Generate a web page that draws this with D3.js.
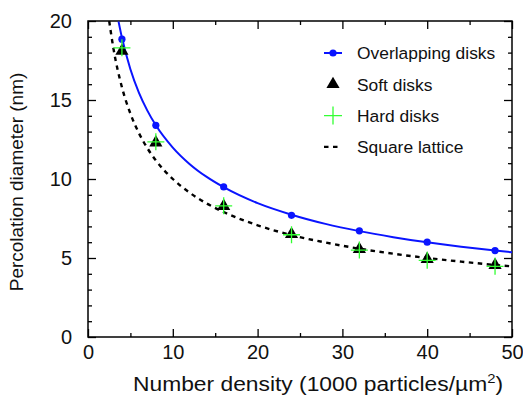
<!DOCTYPE html>
<html>
<head>
<meta charset="utf-8">
<script src="https://cdn.jsdelivr.net/npm/d3@7"></script>
<style>
  body { margin: 0; background: #fff; }
  svg { display: block; font-family: "Liberation Sans", Arial, Helvetica, sans-serif; }
</style>
</head>
<body>
<svg id="chart" width="523" height="398"></svg>
<script>
// Simulated densities (1000 particles/µm²)
const densities = [4, 8, 16, 24, 32, 40, 48];
// Percolation diameters (nm) for each particle model
const overlapping = [18.85, 13.4, 9.5, 7.7, 6.72, 6.0, 5.47];
const soft = [18.1, 12.3, 8.28, 6.5, 5.55, 4.93, 4.55];
const hard = [18.3, 12.35, 8.3, 6.47, 5.5, 4.85, 4.47];

// Smooth continuum curve for overlapping disks
const overlapCurveX = [3.6, 4, 5, 6, 7, 8, 10, 12, 14, 16, 20, 24, 28, 32, 36, 40, 44, 48, 50];
const overlapCurveY = [19.97, 18.95, 16.95, 15.47, 14.33, 13.4, 11.99, 10.94, 10.13, 9.48, 8.47, 7.74, 7.16, 6.7, 6.32, 5.99, 5.71, 5.47, 5.36];
// Square lattice spacing curve
const latticeX = [2.5, 3, 4, 5, 6, 7, 8, 10, 12, 14, 16, 20, 24, 28, 32, 36, 40, 44, 48, 50];
const latticeY = [20.0, 18.26, 15.81, 14.14, 12.91, 11.95, 11.18, 10.0, 9.13, 8.45, 7.91, 7.07, 6.45, 5.98, 5.59, 5.27, 5.0, 4.77, 4.56, 4.47];

const xTicks = [0, 10, 20, 30, 40, 50];
const yTicks = [0, 5, 10, 15, 20];
const legendLabels = ["Overlapping disks", "Soft disks", "Hard disks", "Square lattice"];

const svg = d3.select("#chart");
const m = { left: 88, right: 11, top: 21, bottom: 61 };
const W = 523, H = 398;
const x = d3.scaleLinear().domain([0, 50]).range([m.left, W - m.right]);
const y = d3.scaleLinear().domain([0, 20]).range([H - m.bottom, m.top]);

const blue = "#0a14ff", green = "#33ff33";

// Clip the curves to the plotting frame
svg.append("clipPath").attr("id", "plotClip")
  .append("rect").attr("x", x(0)).attr("y", y(20)).attr("width", x(50) - x(0)).attr("height", y(0) - y(20));

// Inward ticks on all four sides
function ticksGroup(axisFn, scale, transform, values, size) {
  svg.append("g").attr("transform", transform)
    .call(axisFn(scale).tickValues(values).tickSize(size).tickFormat(""))
    .call(g => g.select(".domain").remove())
    .call(g => g.selectAll("line").attr("stroke", "#000").attr("stroke-width", 1.3));
}
const xMinor = d3.range(5, 50, 10);
const yMinor = d3.range(0, 21).filter(v => v % 5 !== 0);
ticksGroup(d3.axisTop, x, `translate(0,${y(0)})`, xTicks, 8);
ticksGroup(d3.axisTop, x, `translate(0,${y(0)})`, xMinor, 4);
ticksGroup(d3.axisBottom, x, `translate(0,${y(20)})`, xTicks, 8);
ticksGroup(d3.axisBottom, x, `translate(0,${y(20)})`, xMinor, 4);
ticksGroup(d3.axisRight, y, `translate(${x(0)},0)`, yTicks, 8);
ticksGroup(d3.axisRight, y, `translate(${x(0)},0)`, yMinor, 4);
ticksGroup(d3.axisLeft, y, `translate(${x(50)},0)`, yTicks, 8);
ticksGroup(d3.axisLeft, y, `translate(${x(50)},0)`, yMinor, 4);

// Tick labels
svg.append("g").attr("transform", `translate(0,${y(0)})`)
  .call(d3.axisBottom(x).tickValues(xTicks).tickSize(0).tickPadding(8))
  .call(g => g.select(".domain").remove())
  .call(g => g.selectAll("text").attr("font-size", 20).attr("fill", "#111").attr("font-family", null));
svg.append("g").attr("transform", `translate(${x(0)},0)`)
  .call(d3.axisLeft(y).tickValues(yTicks).tickSize(0).tickPadding(16))
  .call(g => g.select(".domain").remove())
  .call(g => g.selectAll("text").attr("font-size", 20).attr("fill", "#111").attr("font-family", null));

// Frame
svg.append("rect").attr("x", x(0)).attr("y", y(20))
  .attr("width", x(50) - x(0)).attr("height", y(0) - y(20))
  .attr("fill", "none").attr("stroke", "#000").attr("stroke-width", 1.5);

const line = d3.line().x(d => x(d[0])).y(d => y(d[1])).curve(d3.curveMonotoneX);
const plot = svg.append("g").attr("clip-path", "url(#plotClip)");

plot.append("path").datum(latticeX.map((v, i) => [v, latticeY[i]]))
  .attr("d", line).attr("fill", "none").attr("stroke", "#000")
  .attr("stroke-width", 2.4).attr("stroke-dasharray", "4.5,4.5");
plot.append("path").datum(overlapCurveX.map((v, i) => [v, overlapCurveY[i]]))
  .attr("d", line).attr("fill", "none").attr("stroke", blue).attr("stroke-width", 2);

const tri = d3.symbol().type(d3.symbolTriangle).size(75);

// Overlapping disk markers
svg.append("g").selectAll("circle").data(densities).join("circle")
  .attr("cx", d => x(d)).attr("cy", (d, i) => y(overlapping[i])).attr("r", 3.6).attr("fill", blue);
// Soft disk triangles
svg.append("g").selectAll("path").data(densities).join("path")
  .attr("d", tri).attr("transform", (d, i) => `translate(${x(d)},${y(soft[i])})`).attr("fill", "#000");
// Hard disk crosses
const plusPath = (cx, cy, s) => `M${cx - s},${cy}H${cx + s}M${cx},${cy - s}V${cy + s}`;
svg.append("g").selectAll("path").data(densities).join("path")
  .attr("d", (d, i) => plusPath(x(d), y(hard[i]), 8.5))
  .attr("stroke", green).attr("stroke-width", 1.3).attr("fill", "none");

// Legend
const lg = svg.append("g");
const lx = 333, ly0 = 53, dy = 31.3, tx = 357;
legendLabels.forEach((t, i) => {
  lg.append("text").attr("x", tx).attr("y", ly0 + i * dy).attr("dy", "0.36em")
    .attr("font-size", 17.4).attr("fill", "#111").text(t);
});
lg.append("line").attr("x1", lx - 9).attr("x2", lx + 9).attr("y1", ly0).attr("y2", ly0)
  .attr("stroke", blue).attr("stroke-width", 2);
lg.append("circle").attr("cx", lx).attr("cy", ly0).attr("r", 3.6).attr("fill", blue);
lg.append("path").attr("d", tri).attr("transform", `translate(${lx},${ly0 + dy})`).attr("fill", "#000");
lg.append("path").attr("d", plusPath(lx, ly0 + 2 * dy, 9)).attr("stroke", green).attr("stroke-width", 1.3);
lg.append("line").attr("x1", lx - 9).attr("x2", lx + 9).attr("y1", ly0 + 3 * dy).attr("y2", ly0 + 3 * dy)
  .attr("stroke", "#000").attr("stroke-width", 2.4).attr("stroke-dasharray", "4.5,4.5");

// Axis titles
svg.append("text").attr("x", 318).attr("y", 391)
  .attr("text-anchor", "middle").attr("font-size", 20).attr("fill", "#111")
  .attr("textLength", 370).attr("lengthAdjust", "spacingAndGlyphs")
  .html('Number density (1000 particles/\u00B5m<tspan dy="-8" font-size="13">2</tspan><tspan dy="8">)</tspan>');
svg.append("text").attr("transform", `translate(23,182) rotate(-90)`)
  .attr("text-anchor", "middle").attr("font-size", 19).attr("fill", "#111")
  .text("Percolation diameter (nm)");
</script>
</body>
</html>
